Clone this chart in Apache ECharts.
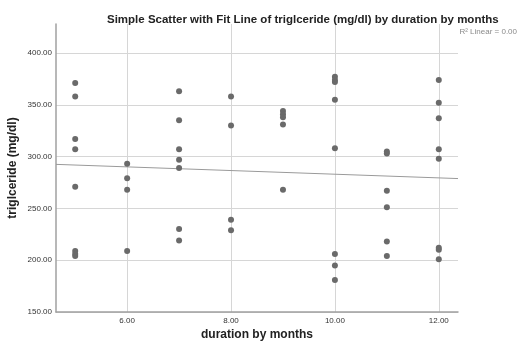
<!DOCTYPE html>
<html>
<head>
<meta charset="utf-8">
<script src="https://cdn.jsdelivr.net/npm/echarts@6/dist/echarts.min.js"></script>
<style>html,body{margin:0;padding:0;background:#fff}#c{width:518px;height:347px}</style>
</head>
<body>
<div id="c"></div>
<script>
// duration (months) for each observation
var duration = [
  5,5,5,5,5,5,5,5,
  6,6,6,6,
  7,7,7,7,7,7,7,
  8,8,8,8,
  9,9,9,9,9,
  10,10,10,10,10,10,10,10,
  11,11,11,11,11,11,
  12,12,12,12,12,12,12,12
];
// triglceride (mg/dl) for each observation
var triglyceride = [
  371,358,317,307,271,209,206,204,
  293,279,268,209,
  363,335,307,297,289,230,219,
  358,330,239,229,
  344,341,338,331,268,
  377,374,372,355,308,206,195,181,
  305,303,267,251,218,204,
  374,352,337,307,298,212,210,201
];
// fit line end points
var fitX = [4.63, 12.37];
var fitY = [292.5, 278.8];
var xTicks = [6, 8, 10, 12];
var yTicks = [150, 200, 250, 300, 350, 400];
var xRange = [4.63, 12.37];
var yRange = [150, 428];

var points = duration.map(function(d, i){ return [d, triglyceride[i]]; });
var fit = fitX.map(function(x, i){ return [x, fitY[i]]; });

var chart = echarts.init(document.getElementById('c'));
var fontFam = 'Liberation Sans, Arial, sans-serif';
chart.setOption({
  animation: false,
  title: {
    text: 'Simple Scatter with Fit Line of triglceride (mg/dl) by duration by months',
    left: 102, top: 9,
    textStyle: {fontFamily: fontFam, fontSize: 11.5, fontWeight: 'bold', color: '#222'}
  },
  graphic: [{
    type: 'text', right: 1, top: 28,
    style: {text: 'R\u00b2 Linear = 0.00', fontFamily: fontFam, fontSize: 8, fill: '#8a8a8a'}
  }],
  grid: {left: 56, right: 60, top: 24, bottom: 35, containLabel: false, outerBoundsMode: 'none'},
  xAxis: {
    type: 'value', min: xRange[0], max: xRange[1],
    name: 'duration by months', nameLocation: 'middle', nameGap: 17, nameMoveOverlap: false,
    nameTextStyle: {fontFamily: fontFam, fontSize: 12, fontWeight: 'bold', color: '#222'},
    axisLine: {show: true, lineStyle: {color: '#a0a0a0', width: 1.5}},
    axisTick: {show: false, customValues: xTicks},
    axisLabel: {customValues: xTicks, fontFamily: fontFam, fontSize: 8, color: '#333', margin: 5,
      formatter: function(v){ return v.toFixed(2); }},
    splitLine: {show: true, lineStyle: {color: '#d6d6d6', width: 1}}
  },
  yAxis: {
    type: 'value', min: yRange[0], max: yRange[1],
    name: 'triglceride (mg/dl)', nameLocation: 'middle', nameGap: 37, nameMoveOverlap: false,
    nameTextStyle: {fontFamily: fontFam, fontSize: 12, fontWeight: 'bold', color: '#222'},
    axisLine: {show: true, lineStyle: {color: '#a0a0a0', width: 1.5}},
    axisTick: {show: false, customValues: yTicks},
    axisLabel: {customValues: yTicks, fontFamily: fontFam, fontSize: 8, color: '#333', margin: 4,
      formatter: function(v){ return v.toFixed(2); }},
    splitLine: {show: true, lineStyle: {color: '#d6d6d6', width: 1}}
  },
  series: [{
    type: 'line', data: fit, symbol: 'none', silent: true,
    lineStyle: {color: '#9a9a9a', width: 1}, z: 1
  }, {
    type: 'scatter', data: points, symbolSize: 6,
    itemStyle: {color: '#6a6a6a', opacity: 1}, z: 2
  }]
});
</script>
</body>
</html>
